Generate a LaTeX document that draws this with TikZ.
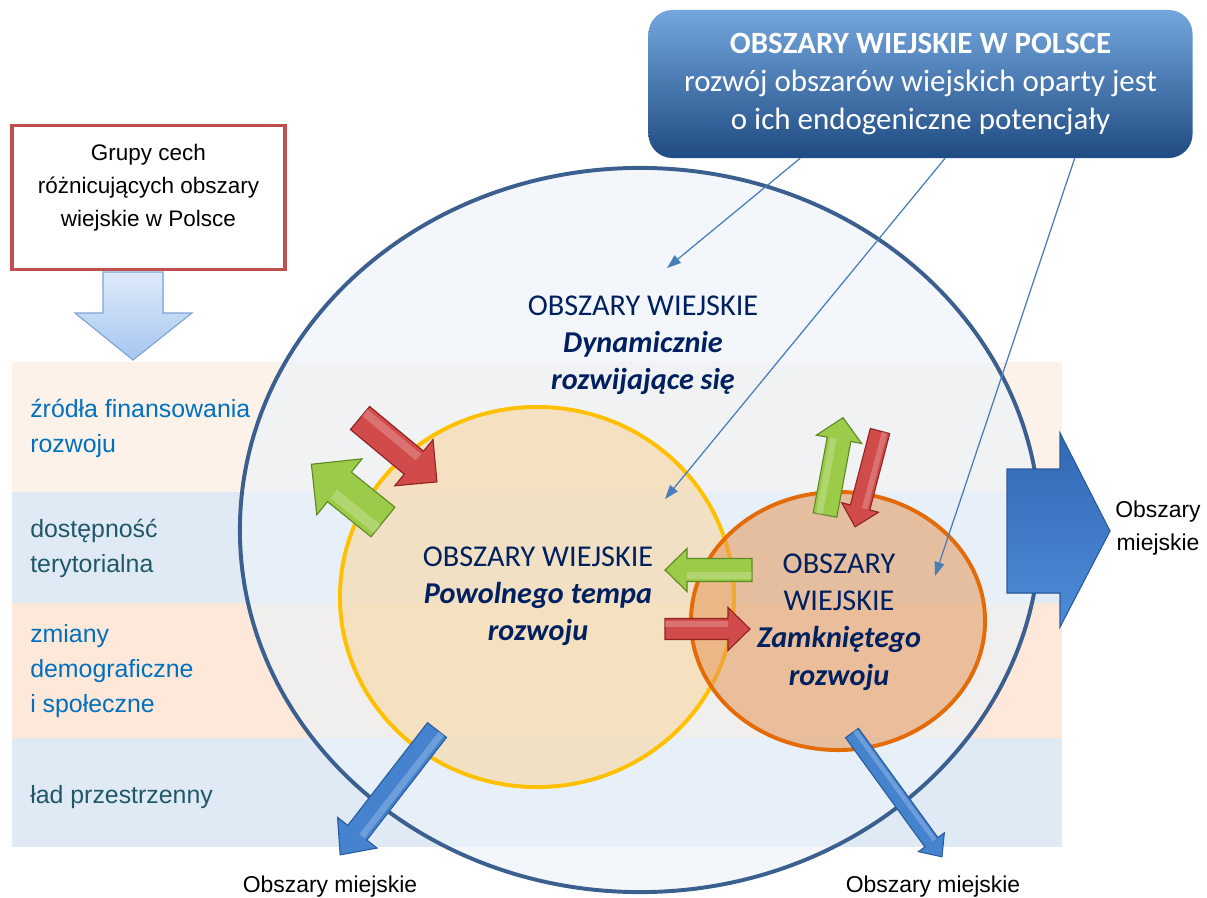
\documentclass[tikz,border=0pt]{standalone}
\usepackage{fontspec}
\setmainfont{Liberation Sans}
\newfontfamily\calib{Carlito}
\usetikzlibrary{arrows.meta, calc}

\definecolor{granat}{HTML}{002060}
\definecolor{niebieski}{HTML}{0070C0}
\definecolor{morski}{HTML}{215868}
\definecolor{pasA}{HTML}{FDF2E9}
\definecolor{pasB}{HTML}{DFEAF5}
\definecolor{pasC}{HTML}{FDE8D9}
\definecolor{obwod}{HTML}{3B5F8E}
\definecolor{linia}{HTML}{4A7EBB}

\tikzset{
  lbl/.style={anchor=west, align=left, inner sep=0pt, font=\fontsize{17.7}{25}\selectfont},
  srodek/.style={align=center, inner sep=0pt, text=granat, font=\calib\fontsize{21.5}{26.5}\selectfont},
  miejskie/.style={align=center, inner sep=0pt, font=\fontsize{16.3}{24}\selectfont},
  naglowek/.style={rounded corners=6mm, top color={rgb,255:red,116;green,166;blue,222}, bottom color={rgb,255:red,31;green,75;blue,130},
    minimum width=13.6cm, minimum height=3.7cm, align=center, text=white, font=\calib\fontsize{22}{27}\selectfont},
  ramka/.style={draw={rgb,255:red,192;green,80;blue,77}, line width=2.8pt, fill=white, minimum width=6.8cm, minimum height=3.6cm},
  cienka/.style={draw=linia, line width=0.9pt, -{Triangle[length=10pt,width=7pt]}},
  redarr/.style={fill={rgb,255:red,210;green,75;blue,75}, draw={rgb,255:red,142;green,36;blue,36}, line width=0.8pt},
  greenarr/.style={fill={rgb,255:red,156;green,203;blue,74}, draw={rgb,255:red,94;green,138;blue,34}, line width=0.8pt},
  bluearr/.style={fill={rgb,255:red,69;green,131;blue,207}, draw={rgb,255:red,43;green,92;blue,158}, line width=0.8pt},
}

% strzalka blokowa: styl, ogon, kat, dlugosc, pol szer. trzonu, pol szer. grotu, dl. grotu
\newcommand{\blockarrow}[7]{%
  \begin{scope}[shift={(#2)}, rotate=#3]
    \filldraw[#1] (0,-#5) -- ({#4-#7},-#5) -- ({#4-#7},-#6) -- (#4,0) -- ({#4-#7},#6) -- ({#4-#7},#5) -- (0,#5) -- cycle;
    \fill[white, opacity=.22] (0,{-0.75*#5}) rectangle ({#4-#7},{-0.2*#5});
  \end{scope}}

\begin{document}
\begin{tikzpicture}[x=0.025cm, y=-0.025cm]
\useasboundingbox (0,0) rectangle (1207,897);

% pasy
\fill[pasA] (12,362) rectangle (1062,492);
\fill[pasB] (12,492) rectangle (1062,603);
\fill[pasC] (12,603) rectangle (1062,738);
\fill[pasB] (12,738) rectangle (1062,847);

% elipsy
\filldraw[draw=obwod, line width=2.8pt, fill={rgb,255:red,236;green,243;blue,250}, fill opacity=.65] (640,530) ellipse [x radius=10cm, y radius=9.05cm];
\filldraw[draw={rgb,255:red,255;green,192;blue,0}, line width=2.8pt, fill={rgb,255:red,249;green,214;blue,160}, fill opacity=.6] (537,597) ellipse [x radius=4.925cm, y radius=4.75cm];
\filldraw[draw={rgb,255:red,227;green,108;blue,9}, line width=2.8pt, fill={rgb,255:red,229;green,150;blue,88}, fill opacity=.55] (838,621) ellipse [x radius=3.675cm, y radius=3.225cm];

% naglowek
\node[naglowek] (polska) at (920.5,84) {\textbf{OBSZARY WIEJSKIE W POLSCE}\\rozwój obszarów wiejskich oparty jest\\o ich endogeniczne potencjały};

% ramka z cechami
\node[ramka] (grupy) at (148.5,197.5) {};
\node[align=center, inner sep=0pt, font=\fontsize{16}{23.5}\selectfont] (grupyt) at (148.5,188) {Grupy cech\\różnicujących obszary\\wiejskie w Polsce};
\filldraw[top color={rgb,255:red,222;green,234;blue,250}, bottom color={rgb,255:red,166;green,198;blue,240}, draw={rgb,255:red,126;green,164;blue,216}, line width=0.8pt]
  (103,272) -- (163,272) -- (163,313) -- (192,313) -- (133,360) -- (75,313) -- (103,313) -- cycle;

% cechy
\node[lbl, text=niebieski] (zrodla) at (30,428) {źródła finansowania\\rozwoju};
\node[lbl, text=morski] (dostep) at (30,548) {dostępność\\terytorialna};
\node[lbl, text=niebieski] (zmiany) at (30,671) {zmiany\\demograficzne\\i społeczne};
\node[lbl, text=morski] (lad) at (30,797) {ład przestrzenny};

% typy obszarow
\node[srodek] (dyn) at (643,345) {OBSZARY WIEJSKIE\\\textbf{\textit{Dynamicznie}}\\\textbf{\textit{rozwijające się}}};
\node[srodek] (pow) at (538,596) {OBSZARY WIEJSKIE\\\textbf{\textit{Powolnego tempa}}\\\textbf{\textit{rozwoju}}};
\node[srodek] (zam) at (839,622) {OBSZARY\\WIEJSKIE\\\textbf{\textit{Zamkniętego}}\\\textbf{\textit{rozwoju}}};

% przeplywy
\blockarrow{redarr}{360,418}{-39.7}{100}{15}{30}{30}
\blockarrow{greenarr}{383,522}{141.1}{92}{19}{36}{36}
\blockarrow{greenarr}{825,515}{79.5}{99}{12}{23}{22}
\blockarrow{redarr}{880,431}{-104.6}{99}{10}{19}{20}
\blockarrow{greenarr}{752,570}{180}{87}{11.5}{21.5}{22}
\blockarrow{redarr}{665,629}{0}{85}{10.5}{21.5}{22}
\blockarrow{bluearr}{437,730}{-127.8}{158}{12}{25}{28}
\blockarrow{bluearr}{852,733}{-54}{153}{8}{16}{18}
\filldraw[top color={rgb,255:red,50;green,104;blue,180}, bottom color={rgb,255:red,78;green,140;blue,216}, draw={rgb,255:red,43;green,92;blue,158}, line width=0.8pt]
  (1007,469) -- (1060,469) -- (1060,433) -- (1110,531) -- (1060,627) -- (1060,593) -- (1007,593) -- cycle;

\node[miejskie] (miejP) at (1158,528) {Obszary\\miejskie};
\node[miejskie] (miejL) at (330,887) {Obszary miejskie};
\node[miejskie] (miejD) at (933,887) {Obszary miejskie};

% odwolania z naglowka
\coordinate (cDyn) at (667,268);
\coordinate (cPow) at (665,499);
\coordinate (cZam) at (935,576);
\draw[cienka] ($(polska.south west)!0.279!(polska.south east)$) -- (cDyn);
\draw[cienka] ($(polska.south west)!0.545!(polska.south east)$) -- (cPow);
\draw[cienka] ($(polska.south west)!0.783!(polska.south east)$) -- (cZam);
\end{tikzpicture}
\end{document}
